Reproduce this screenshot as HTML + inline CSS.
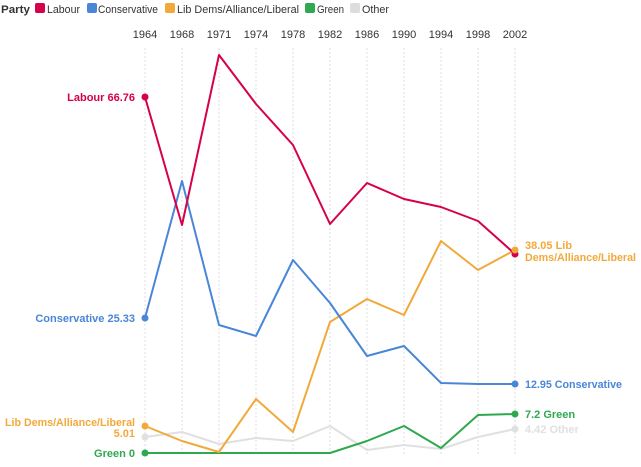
<!DOCTYPE html>
<html><head><style>
body{margin:0;background:#fff;font-family:"Liberation Sans",sans-serif;}
</style></head><body>
<svg width="641" height="462" xmlns="http://www.w3.org/2000/svg" font-family="Liberation Sans, sans-serif">
<g font-size="11" fill="#333">
<text x="1" y="13" font-weight="bold" textLength="29" lengthAdjust="spacingAndGlyphs">Party</text>
<rect x="35" y="3" width="10" height="10" rx="2" fill="#d6004c"/><text x="47" y="13" textLength="33" lengthAdjust="spacingAndGlyphs">Labour</text>
<rect x="87" y="3" width="10" height="10" rx="2" fill="#4a86d8"/><text x="98" y="13" textLength="60" lengthAdjust="spacingAndGlyphs">Conservative</text>
<rect x="165" y="3" width="10" height="10" rx="2" fill="#f2a93b"/><text x="177" y="13" textLength="122" lengthAdjust="spacingAndGlyphs">Lib Dems/Alliance/Liberal</text>
<rect x="305" y="3" width="10" height="10" rx="2" fill="#2fa84f"/><text x="317" y="13" textLength="27" lengthAdjust="spacingAndGlyphs">Green</text>
<rect x="350" y="3" width="10" height="10" rx="2" fill="#ddd"/><text x="362" y="13" textLength="27" lengthAdjust="spacingAndGlyphs">Other</text>
</g>
<g font-size="11" fill="#333" text-anchor="middle">
<text x="145" y="38">1964</text><text x="182" y="38">1968</text><text x="219" y="38">1971</text><text x="256" y="38">1974</text><text x="293" y="38">1978</text><text x="330" y="38">1982</text><text x="367" y="38">1986</text><text x="404" y="38">1990</text><text x="441" y="38">1994</text><text x="478" y="38">1998</text><text x="515" y="38">2002</text>
</g>
<g stroke="#ddd" stroke-dasharray="2,2" stroke-width="1">
<line x1="145" y1="48" x2="145" y2="455"/><line x1="182" y1="48" x2="182" y2="455"/><line x1="219" y1="48" x2="219" y2="455"/><line x1="256" y1="48" x2="256" y2="455"/><line x1="293" y1="48" x2="293" y2="455"/><line x1="330" y1="48" x2="330" y2="455"/><line x1="367" y1="48" x2="367" y2="455"/><line x1="404" y1="48" x2="404" y2="455"/><line x1="441" y1="48" x2="441" y2="455"/><line x1="478" y1="48" x2="478" y2="455"/><line x1="515" y1="48" x2="515" y2="455"/>
</g>
<g fill="none" stroke-width="2" stroke-linejoin="round">
<polyline stroke="#e0e0e0" points="145,437 182,432 219,444 256,438 293,441 330,426 367,450 404,445 441,449 478,437 515,429"/>
<polyline stroke="#2fa84f" points="145,453 182,453 219,453 256,453 293,453 330,453 367,441 404,426 441,448 478,415 515,414"/>
<polyline stroke="#f2a93b" points="145,426 182,441 219,452 256,399 293,432 330,322 367,299 404,315 441,241 478,270 515,250"/>
<polyline stroke="#4a86d8" points="145,318 182,181 219,325 256,336 293,260 330,303 367,356 404,346 441,383 478,384 515,384"/>
<polyline stroke="#d6004c" points="145,97 182,225 219,55 256,104 293,145 330,224 367,183 404,199 441,207 478,221 515,254"/>
</g>
<g>
<circle cx="145" cy="97" r="3.5" fill="#d6004c"/><circle cx="515" cy="254" r="3.5" fill="#d6004c"/>
<circle cx="145" cy="318" r="3.5" fill="#4a86d8"/><circle cx="515" cy="384" r="3.5" fill="#4a86d8"/>
<circle cx="145" cy="426" r="3.5" fill="#f2a93b"/><circle cx="515" cy="250" r="3.5" fill="#f2a93b"/>
<circle cx="145" cy="453" r="3.5" fill="#2fa84f"/><circle cx="515" cy="414" r="3.5" fill="#2fa84f"/>
<circle cx="145" cy="437" r="3.5" fill="#e0e0e0"/><circle cx="515" cy="429" r="3.5" fill="#e0e0e0"/>
</g>
<g font-size="11" font-weight="bold" text-anchor="end">
<text x="135" y="101" fill="#d6004c">Labour 66.76</text>
<text x="135" y="322" fill="#4a86d8">Conservative 25.33</text>
<text x="135" y="426" fill="#f2a93b" textLength="130" lengthAdjust="spacingAndGlyphs">Lib Dems/Alliance/Liberal</text>
<text x="135" y="437" fill="#f2a93b">5.01</text>
<text x="135" y="457" fill="#2fa84f">Green 0</text>
</g>
<g font-size="11" font-weight="bold">
<text x="525" y="249" fill="#f2a93b">38.05 Lib</text>
<text x="525" y="261" fill="#f2a93b" textLength="111" lengthAdjust="spacingAndGlyphs">Dems/Alliance/Liberal</text>
<text x="525" y="388" fill="#4a86d8" textLength="97" lengthAdjust="spacingAndGlyphs">12.95 Conservative</text>
<text x="525" y="418" fill="#2fa84f">7.2 Green</text>
<text x="525" y="433" fill="#e0e0e0">4.42 Other</text>
</g>
</svg>
</body></html>
